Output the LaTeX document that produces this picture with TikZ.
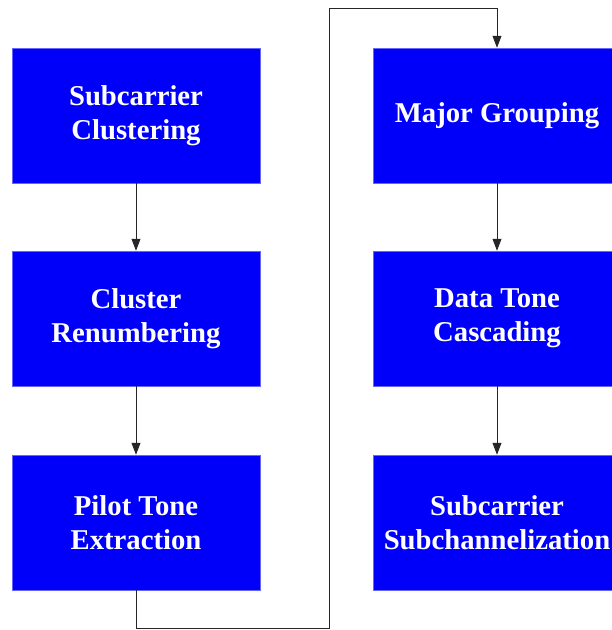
\documentclass[tikz,border=0pt]{standalone}
\usepackage{fontspec}
\setmainfont{Liberation Serif}
\usetikzlibrary{arrows.meta}
\definecolor{boxblue}{RGB}{0,0,250}
\begin{document}
\begin{tikzpicture}[x=1pt,y=-1pt,
  stagebox/.style={fill=boxblue, draw=boxblue!60!white, line width=0.5pt,
    minimum width=248pt, minimum height=135pt, inner sep=0pt,
    align=center, text=white,
    font=\fontsize{28.7}{34}\selectfont\bfseries},
  flow/.style={draw=black!85, line width=0.8pt,
    -{Triangle[length=12pt,width=9pt]}}]
  \useasboundingbox (0,0) rectangle (612,630);
  \begin{scope}
    \clip (0,0) rectangle (612,630);
    \node[stagebox] (sc) at (136,115.5) {Subcarrier\\Clustering};
    \node[stagebox] (cr) at (136,318.5) {Cluster\\Renumbering};
    \node[stagebox] (pt) at (136,522.5) {Pilot Tone\\Extraction};
    \node[stagebox] (mg) at (497,115.5) {Major Grouping};
    \node[stagebox] (dt) at (497,318.5) {Data Tone\\Cascading};
    \node[stagebox] (ss) at (497,522.5) {Subcarrier\\Subchannelization};
  \end{scope}
  \coordinate (b1) at (136,628);
  \coordinate (b2) at (329,628);
  \coordinate (t1) at (329,8);
  \coordinate (t2) at (497,8);
  \draw[flow] (sc) -- (cr);
  \draw[flow] (cr) -- (pt);
  \draw[flow] (pt.south) -- (b1) -- (b2) -- (t1) -- (t2) -- (mg.north);
  \draw[flow] (mg) -- (dt);
  \draw[flow] (dt) -- (ss);
\end{tikzpicture}
\end{document}
